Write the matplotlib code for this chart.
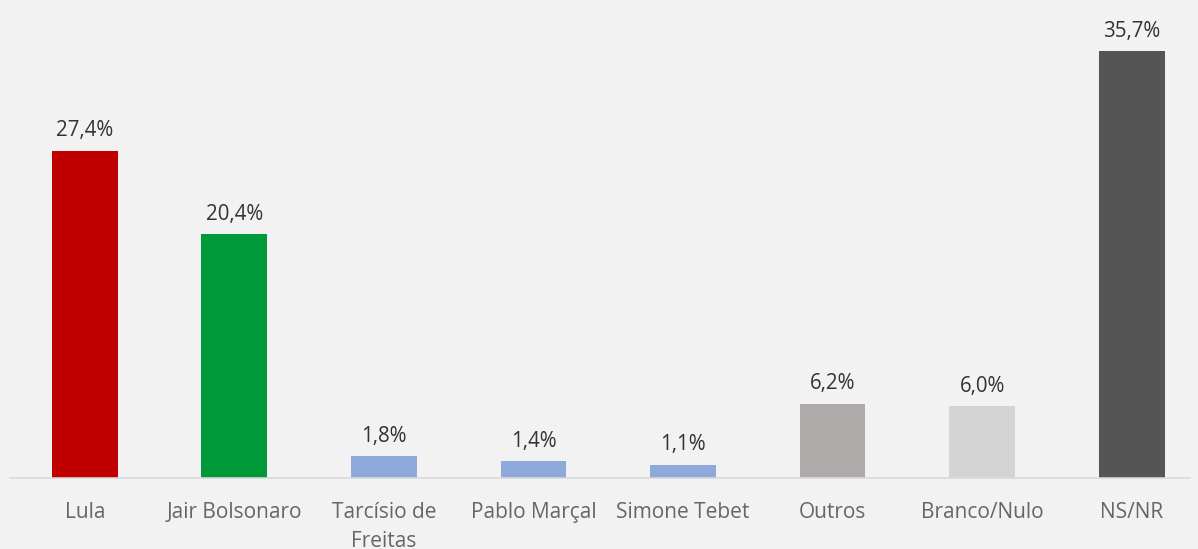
import matplotlib.pyplot as plt

plt.rcParams['font.family'] = ['Open Sans', 'DejaVu Sans']

candidatos = ['Lula', 'Jair Bolsonaro', 'Tarcísio de\nFreitas', 'Pablo Marçal',
              'Simone Tebet', 'Outros', 'Branco/Nulo', 'NS/NR']
valores = [27.4, 20.4, 1.8, 1.4, 1.1, 6.2, 6.0, 35.7]
cores = ['#c00000', '#00993a', '#8eaadb', '#8eaadb', '#8eaadb',
         '#aeaaaa', '#d4d4d4', '#555555']

fundo = '#f2f2f2'
fig = plt.figure(figsize=(11.98, 5.49), dpi=100, facecolor=fundo)
ax = fig.add_axes([10 / 1198, 71 / 549, 1180 / 1198, 466 / 549])
ax.set_facecolor(fundo)

x = list(range(len(candidatos)))
ax.bar(x, valores, width=0.44, color=cores)

for xi, v in zip(x, valores):
    ax.annotate(f'{v:.1f}%'.replace('.', ','), (xi, v), xytext=(0, 7),
                textcoords='offset points', ha='center', va='bottom',
                fontsize=14.8, color='#333333')

ax.set_xlim(-0.5, 7.39)
ax.set_ylim(0, 39)
ax.set_xticks(x)
ax.set_xticklabels(candidatos, fontsize=15, color='#666666', linespacing=1.55)
ax.tick_params(axis='x', length=0, pad=17)
ax.set_yticks([])
for s in ['top', 'right', 'left']:
    ax.spines[s].set_visible(False)
ax.spines['bottom'].set_color('#d9d9d9')
ax.spines['bottom'].set_linewidth(1.2)

fig.savefig('out.png', dpi=100, facecolor=fundo)
